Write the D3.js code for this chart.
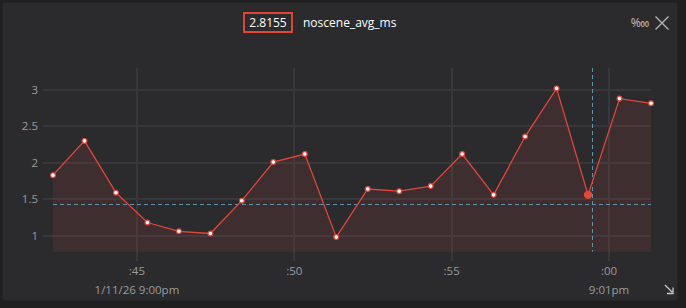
<!doctype html>
<html>
  <head>
    <title>noscene_avg_ms</title>
    <style>
      * { margin: 0; padding: 0; box-sizing: border-box; }
      body { background: #1f1f20; width: 686px; height: 308px; overflow: hidden; }
      text { font-family: "Open Sans", "Noto Sans", sans-serif; }
    </style>
    <script src="https://cdnjs.cloudflare.com/ajax/libs/d3/7.8.5/d3.min.js"></script>
  </head>
  <body>
    <script>
      // one sample per second, starting 9:00:42.33pm
      var startTime = new Date(2026, 0, 11, 21, 0, 42, 333);
      var values = [1.83, 2.30, 1.59, 1.18, 1.06, 1.03, 1.48, 2.01, 2.12, 0.98,
                    1.64, 1.61, 1.68, 2.12, 1.56, 2.36, 3.02, 1.56, 2.88, 2.8155];
      var threshold = 1.43;
      var hoverIndex = 17;
      var yTicks = [1, 1.5, 2, 2.5, 3];
      var xTicks = [
        new Date(2026, 0, 11, 21, 0, 45),
        new Date(2026, 0, 11, 21, 0, 50),
        new Date(2026, 0, 11, 21, 0, 55),
        new Date(2026, 0, 11, 21, 1, 0)
      ];
      var xTickLabels = [":45", ":50", ":55", ":00"];
      var xSubLabels = ["1/11/26 9:00pm", "", "", "9:01pm"];
      var title = "noscene_avg_ms";
      var current = "2.8155";

      var data = values.map(function (v, i) {
        return { t: new Date(startTime.getTime() + i * 1000), v: v };
      });

      var width = 686, height = 308;
      var plotLeft = 53, plotRight = 651, plotTop = 68, plotBottom = 251.7;

      var svg = d3.select("body").append("svg")
                  .attr("width", width)
                  .attr("height", height);

      // panel
      svg.append("rect")
         .attr("x", 2.5).attr("y", 2.5)
         .attr("width", 675).attr("height", 298)
         .attr("rx", 3).attr("ry", 3)
         .attr("fill", "#2b2b2d");

      var x = d3.scaleTime()
                .domain([data[0].t, data[data.length - 1].t])
                .range([plotLeft, plotRight]);
      var y = d3.scaleLinear()
                .domain([0.78, 3.30])
                .range([plotBottom, plotTop]);

      // horizontal grid + y labels
      svg.selectAll(".hgrid").data(yTicks).enter().append("line")
         .attr("x1", 43).attr("x2", plotRight)
         .attr("y1", function (d) { return Math.round(y(d)); })
         .attr("y2", function (d) { return Math.round(y(d)); })
         .attr("stroke", "#38383a").attr("stroke-width", 2);
      svg.selectAll(".ylab").data(yTicks).enter().append("text")
         .attr("x", 38)
         .attr("y", function (d) { return y(d); })
         .attr("dy", "0.35em")
         .attr("text-anchor", "end")
         .attr("font-size", "11.5px")
         .attr("fill", "#9b9b9d")
         .text(function (d) { return d; });

      // vertical grid + x labels
      svg.selectAll(".vgrid").data(xTicks).enter().append("line")
         .attr("x1", function (d) { return Math.round(x(d)); })
         .attr("x2", function (d) { return Math.round(x(d)); })
         .attr("y1", plotTop).attr("y2", 261)
         .attr("stroke", "#38383a").attr("stroke-width", 2);
      svg.selectAll(".xlab").data(xTicks).enter().append("text")
         .attr("x", function (d) { return x(d); })
         .attr("y", 274.5)
         .attr("text-anchor", "middle")
         .attr("font-size", "11.5px")
         .attr("fill", "#9b9b9d")
         .text(function (d, i) { return xTickLabels[i]; });
      svg.selectAll(".xsub").data(xTicks).enter().append("text")
         .attr("x", function (d) { return x(d); })
         .attr("y", 293.5)
         .attr("text-anchor", "middle")
         .attr("font-size", "11.5px")
         .attr("fill", "#9b9b9d")
         .text(function (d, i) { return xSubLabels[i]; });

      // area
      var area = d3.area()
                   .x(function (d) { return x(d.t); })
                   .y0(plotBottom)
                   .y1(function (d) { return y(d.v); });
      svg.append("path").datum(data)
         .attr("d", area)
         .attr("fill", "#e0473c").attr("fill-opacity", 0.11);

      // threshold
      svg.append("line")
         .attr("x1", plotLeft).attr("x2", plotRight)
         .attr("y1", Math.round(y(threshold)) + 0.5).attr("y2", Math.round(y(threshold)) + 0.5)
         .attr("stroke", "#5f93ad").attr("stroke-width", 1)
         .attr("stroke-dasharray", "4,3");

      // cursor
      var cx = Math.round(x(data[hoverIndex].t) + 4) + 0.5;
      svg.append("line")
         .attr("x1", cx).attr("x2", cx)
         .attr("y1", plotTop).attr("y2", plotBottom)
         .attr("stroke", "#5f93ad").attr("stroke-width", 1)
         .attr("stroke-dasharray", "4,3");

      var line = d3.line()
                   .x(function (d) { return x(d.t); })
                   .y(function (d) { return y(d.v); });
      svg.append("path").datum(data)
         .attr("d", line)
         .attr("fill", "none")
         .attr("stroke", "#e0473c").attr("stroke-width", 1.3);

      svg.selectAll(".pt").data(data).enter().append("circle")
         .attr("cx", function (d) { return x(d.t); })
         .attr("cy", function (d) { return y(d.v); })
         .attr("r", function (d, i) { return i === hoverIndex ? 3.6 : 2.4; })
         .attr("fill", function (d, i) { return i === hoverIndex ? "#e0473c" : "#ffffff"; })
         .attr("stroke", "#e0473c").attr("stroke-width", 1.2);

      // header
      svg.append("rect")
         .attr("x", 244).attr("y", 13)
         .attr("width", 48).attr("height", 19)
         .attr("fill", "none")
         .attr("stroke", "#e0453a").attr("stroke-width", 2);
      svg.append("text")
         .attr("x", 268).attr("y", 26.5)
         .attr("text-anchor", "middle")
         .attr("font-size", "12px")
         .attr("fill", "#ffffff")
         .text(current);
      svg.append("text")
         .attr("x", 303).attr("y", 26.5)
         .attr("font-size", "12px")
         .attr("fill", "#ffffff")
         .text(title);

      // toolbar icons
      svg.append("text")
         .attr("x", 640).attr("y", 27)
         .attr("text-anchor", "middle")
         .attr("font-family", "DejaVu Sans")
         .attr("font-size", "12px")
         .attr("fill", "#b5b5b7")
         .text("\u2031");
      svg.append("path")
         .attr("d", "M655.5,16.5 L668.5,29.5 M668.5,16.5 L655.5,29.5")
         .attr("stroke", "#b5b5b7").attr("stroke-width", 1.3);
      svg.append("path")
         .attr("d", "M665,285 L672,292 M673,287.5 L673,293.5 L667,293.5")
         .attr("fill", "none")
         .attr("stroke", "#c8c8ca").attr("stroke-width", 1.3);
    </script>
  </body>
</html>
